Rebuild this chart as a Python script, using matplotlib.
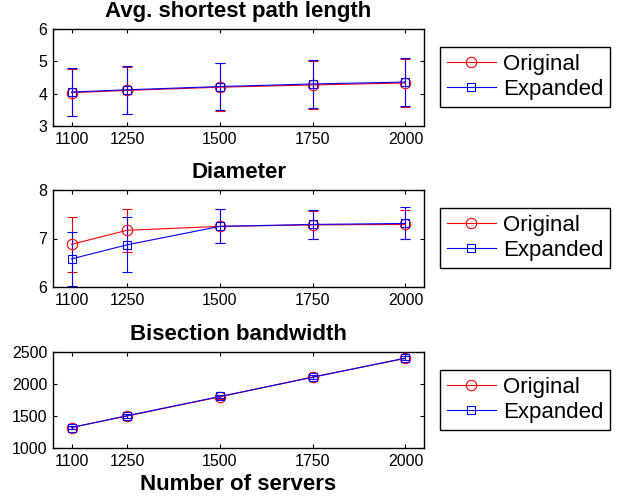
import matplotlib
matplotlib.use('Agg')
import matplotlib.pyplot as plt
import numpy as np

plt.rcParams['font.family'] = ['Liberation Sans', 'DejaVu Sans']

servers = [1100, 1250, 1500, 1750, 2000]

# avg. shortest path length
path_orig = [4.03, 4.10, 4.20, 4.27, 4.33]
path_orig_err = [0.73, 0.74, 0.74, 0.75, 0.74]
path_exp = [4.05, 4.12, 4.22, 4.30, 4.36]
path_exp_err = [0.73, 0.74, 0.74, 0.75, 0.75]

# diameter
diam_orig = [6.88, 7.17, 7.25, 7.28, 7.29]
diam_orig_err = [0.57, 0.44, 0.35, 0.29, 0.30]
diam_exp = [6.58, 6.87, 7.25, 7.29, 7.31]
diam_exp_err = [0.55, 0.57, 0.35, 0.29, 0.33]

# bisection bandwidth
bw_orig = [1320, 1500, 1800, 2110, 2400]
bw_orig_err = [30, 30, 30, 30, 30]
bw_exp = [1320, 1505, 1805, 2105, 2405]
bw_exp_err = [30, 30, 30, 30, 30]

panels = [
    ('Avg. shortest path length', path_orig, path_orig_err, path_exp, path_exp_err, (3, 6), [3, 4, 5, 6]),
    ('Diameter', diam_orig, diam_orig_err, diam_exp, diam_exp_err, (6, 8), [6, 7, 8]),
    ('Bisection bandwidth', bw_orig, bw_orig_err, bw_exp, bw_exp_err, (1000, 2500), [1000, 1500, 2000, 2500]),
]

W, H = 618, 499
fig = plt.figure(figsize=(W / 100, H / 100), dpi=100)

# pixel boxes: (top, bottom) of each axes, legend top
boxes = [(29, 126, 47), (190, 287, 208), (352, 448, 370)]

for (title, yo, eo, ye, ee, ylim, yticks), (top, bot, legtop) in zip(panels, boxes):
    ax = fig.add_axes([53 / W, 1 - bot / H, (424 - 53) / W, (bot - top) / H])
    ax.errorbar(servers, yo, yerr=eo, color='red', lw=0.8, marker='o', ms=7.5,
                mfc='none', mec='red', mew=0.8, capsize=3.5, elinewidth=0.8,
                capthick=0.8, label='Original')
    ax.errorbar(servers, ye, yerr=ee, color='blue', lw=0.8, marker='s', ms=6,
                mfc='none', mec='blue', mew=0.8, capsize=3.5, elinewidth=0.8,
                capthick=0.8, label='Expanded')
    ax.set_xlim(1050, 2050)
    ax.set_ylim(*ylim)
    ax.set_xticks(servers)
    ax.set_yticks(yticks)
    ax.tick_params(direction='in', labelsize=11.5, length=3, top=True, right=True, pad=4)
    for s in ax.spines.values():
        s.set_linewidth(1.0)
    ax.set_title(title, fontsize=16, fontweight='bold', pad=9)

    handles, labels = ax.get_legend_handles_labels()
    handles = [h[0] for h in handles]
    fig.legend(handles, labels, loc='upper left',
               bbox_to_anchor=(440 / W, 1 - legtop / H), fontsize=16,
               fancybox=False, framealpha=1, edgecolor='black',
               handlelength=2.2, handletextpad=0.35, labelspacing=0.2,
               borderpad=0.3, borderaxespad=0).get_frame().set_linewidth(1.0)

    if title == 'Bisection bandwidth':
        ax.set_xlabel('Number of servers', fontsize=16, fontweight='bold', labelpad=4)

fig.savefig('out.png', dpi=100)
